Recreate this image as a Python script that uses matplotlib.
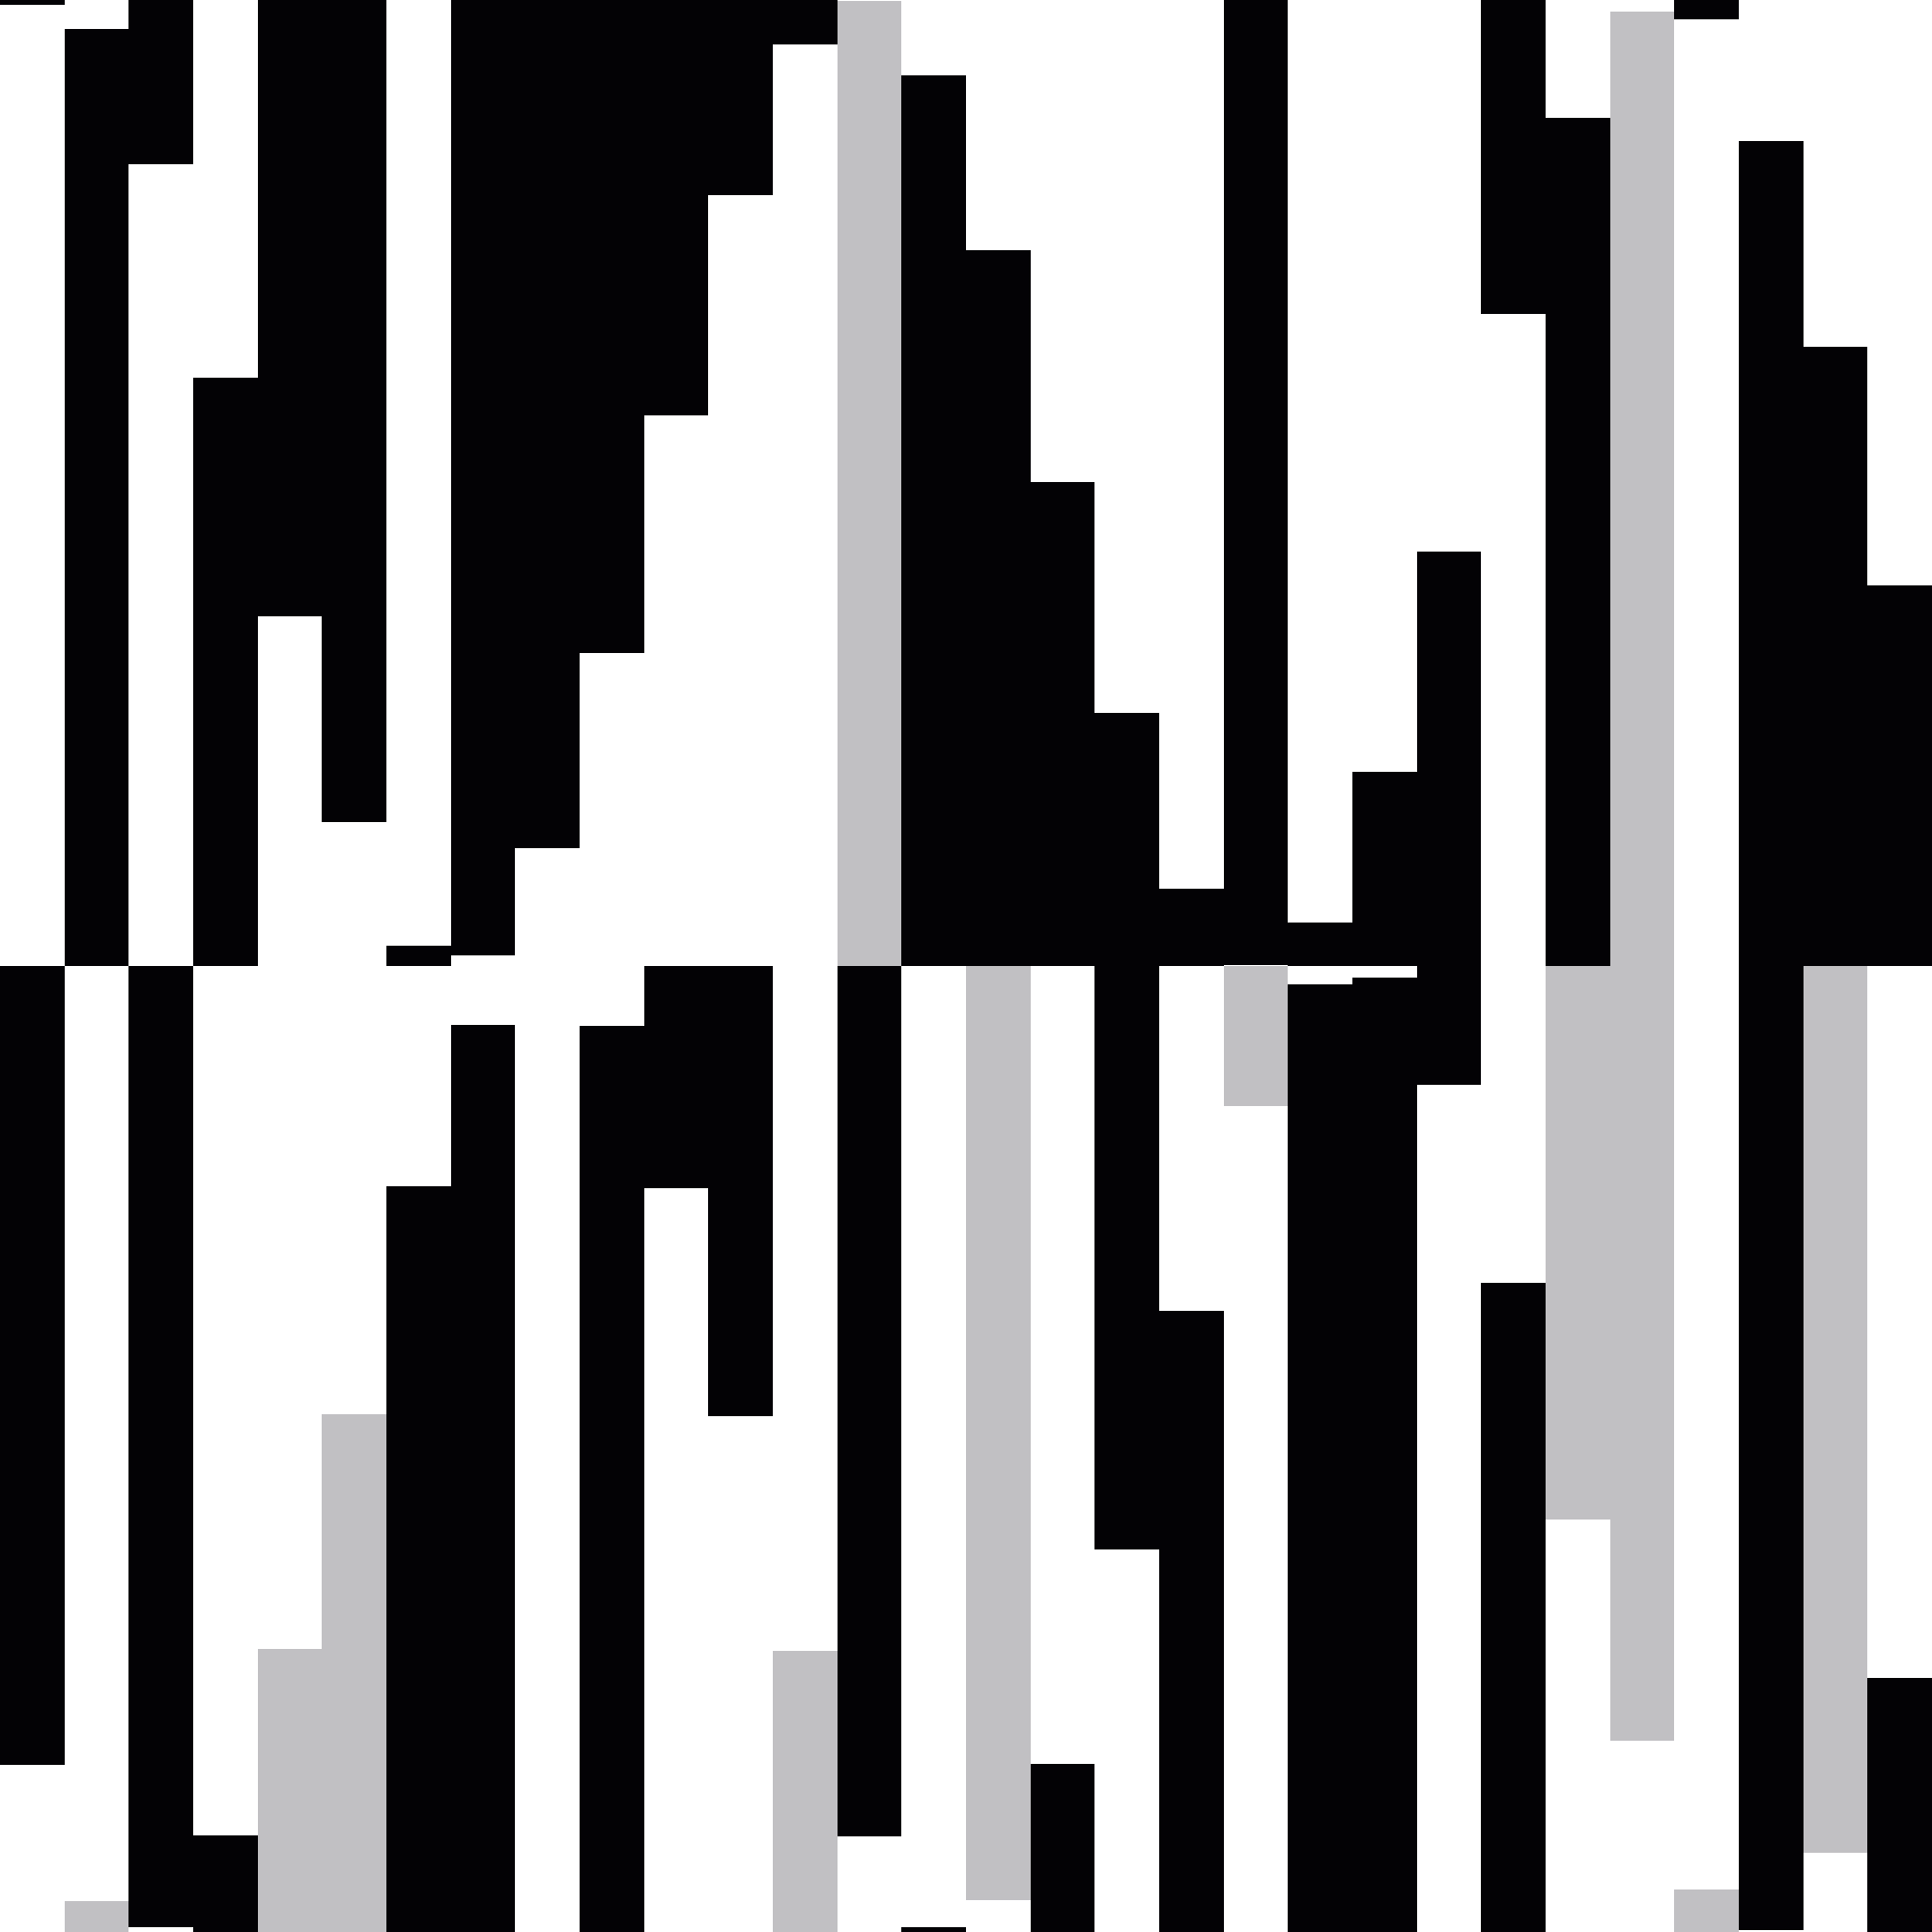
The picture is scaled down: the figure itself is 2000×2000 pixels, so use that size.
import numpy as np
import matplotlib
matplotlib.use("Agg")
import matplotlib.pyplot as plt

BLACK = "#030205"
GRAY = "#c1c0c3"

categories = list(range(30))

# upper segment of each column: (high, low)
upper_high = [100, 97, 100, 60.9, 100, 100, 2.1, 100, 100, 100,
              100, 100, 100, 99.9, 92.2, 74.1, 50.1, 26.2, 8.0, 100,
              4.5, 20.1, 42.9, 100, 87.8, 98.85, 100, 85.4, 64.1, 39.4]
upper_low = [99.5, 0, 83, 0, 36.2, 14.9, 0, 1.1, 12.2, 32.4,
             57, 79.8, 95.4, 0, 0, 0, 0, -60.4, 0, 0.1,
             0, 0, -12.3, 67.5, 0, -80.2, 98, -99.8, 0, 0]
upper_kind = ["k", "k", "k", "k", "k", "k", "k", "k", "k", "k",
              "k", "k", "k", "g", "k", "k", "k", "k", "k", "k",
              "k", "k", "k", "k", "k", "g", "k", "k", "k", "k"]

# lower segment of each column: (high, low); NaN = none
nan = np.nan
lower_high = [0, -96.8, 0, -90, -70.7, -46.4, -22.8, -6.1, nan, -6.2,
              0, 0, -70.9, 0, -99.5, 0, -82.6, nan, -35.7, 0,
              -1.9, -1.2, nan, -32.8, 0, nan, -95.6, nan, 0, -73.7]
lower_low = [-82.7, -100, -99.5, -100, -100, -100, -100, -100, nan, -100,
             -23, -46.6, -100, -90.1, -100, -96.7, -100, nan, -100, -14.5,
             -100, -100, nan, -100, -57.3, nan, -100, nan, -91.8, -100]
lower_kind = ["k", "g", "k", "k", "g", "g", "k", "k", "k", "k",
              "k", "k", "g", "k", "k", "g", "k", "k", "k", "g",
              "k", "k", "k", "k", "g", "k", "g", "k", "g", "k"]

cmap = {"k": BLACK, "g": GRAY}

fig = plt.figure(figsize=(20, 20), dpi=100)
ax = fig.add_axes([0, 0, 1, 1])

x = np.array(categories)
uh = np.array(upper_high); ul = np.array(upper_low)
lh = np.array(lower_high); ll = np.array(lower_low)

ax.bar(x, uh - ul, bottom=ul, width=1.0, color=[cmap[c] for c in upper_kind],
       linewidth=0, align="center")
mask = ~np.isnan(lh)
ax.bar(x[mask], (lh - ll)[mask], bottom=ll[mask], width=1.0,
       color=[cmap[c] for c, m in zip(lower_kind, mask) if m],
       linewidth=0, align="center")

ax.set_xlim(-0.5, 29.5)
ax.set_ylim(-100, 100)
ax.axis("off")

fig.savefig("out.png", dpi=100, facecolor="white")
